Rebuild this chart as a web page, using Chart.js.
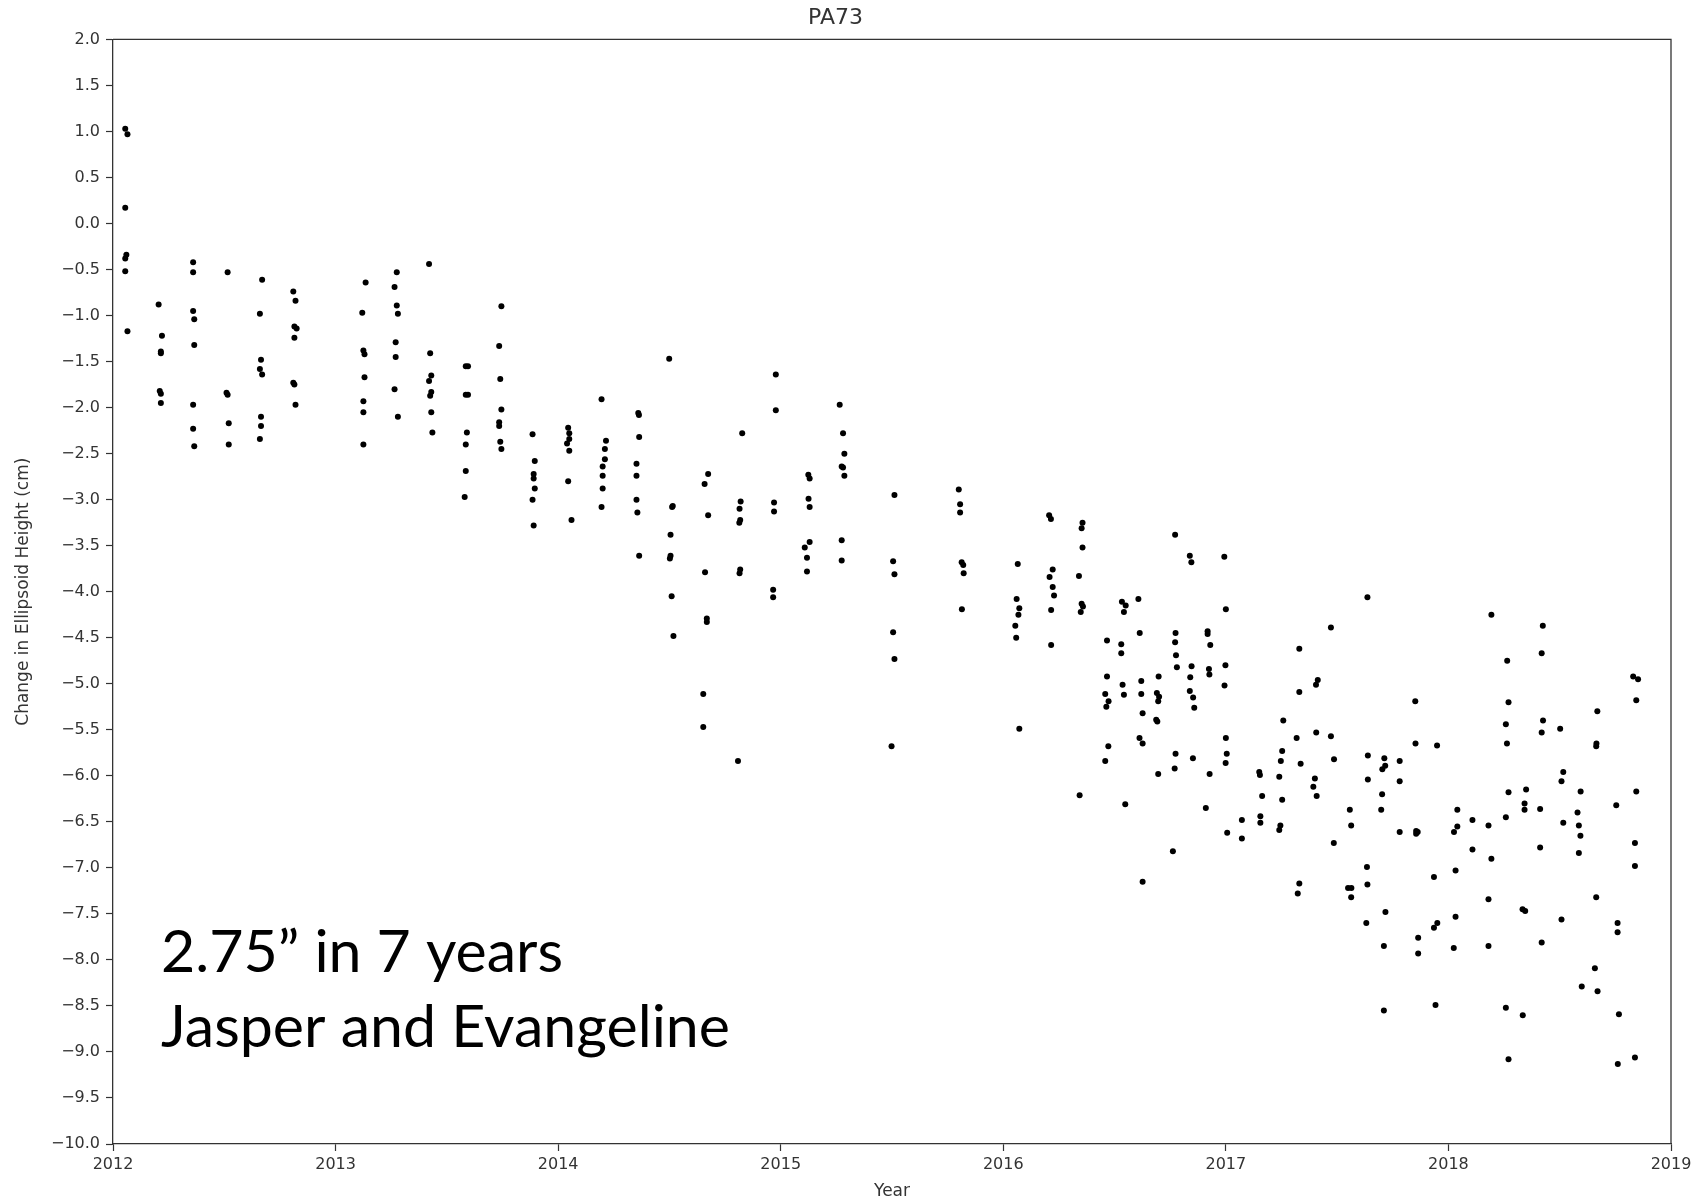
<!DOCTYPE html>
<html>
<head>
<meta charset="utf-8">
<title>PA73</title>
<script src="https://cdn.jsdelivr.net/npm/chart.js@4.4.1/dist/chart.umd.min.js"></script>
<style>
  html, body { margin: 0; padding: 0; background: #fff; }
  #wrap { width: 1704px; height: 1202px; }
</style>
</head>
<body>
<div id="wrap"><canvas id="myChart" width="1704" height="1202"></canvas></div>
<script>
'use strict';

// station + labels
var stationName = 'PA73';
var xTitle = 'Year';
var yTitle = 'Change in Ellipsoid Height (cm)';
var noteLines = ['2.75\u201d in 7 years', 'Jasper and Evangeline'];

// axis range / tick steps
var yearTicks = [2012, 2013, 2014, 2015, 2016, 2017, 2018, 2019];
var heightRange = [-10, 2];
var heightStep = 0.5;

// observation dates (decimal year), one row per survey column
var years = [
  2012.055, 2012.065, 2012.055, 2012.06, 2012.055, 2012.055, 2012.065,
  2012.205, 2012.22, 2012.215, 2012.215, 2012.21, 2012.215, 2012.215,
  2012.36, 2012.36, 2012.36, 2012.365, 2012.365, 2012.36, 2012.36, 2012.365,
  2012.515, 2012.51, 2012.515, 2012.52, 2012.52,
  2012.67, 2012.66, 2012.665, 2012.66, 2012.67, 2012.665, 2012.665, 2012.66,
  2012.81, 2012.82, 2012.815, 2012.825, 2012.815, 2012.81, 2012.815, 2012.82,
  2013.135, 2013.12, 2013.125, 2013.13, 2013.13, 2013.125, 2013.125, 2013.125,
  2013.275, 2013.265, 2013.275, 2013.28, 2013.27, 2013.27, 2013.265, 2013.28,
  2013.42, 2013.425, 2013.43, 2013.42, 2013.43, 2013.425, 2013.43, 2013.435,
  2013.585, 2013.595, 2013.585, 2013.595, 2013.59, 2013.585, 2013.585, 2013.58,
  2013.745, 2013.735, 2013.74, 2013.745, 2013.735, 2013.735, 2013.74, 2013.745,
  2013.885, 2013.895, 2013.89, 2013.89, 2013.895, 2013.885, 2013.89,
  2014.045, 2014.05, 2014.05, 2014.04, 2014.05, 2014.045, 2014.06,
  2014.195, 2014.215, 2014.21, 2014.21, 2014.20, 2014.20, 2014.20, 2014.195,
  2014.36, 2014.363, 2014.364, 2014.352, 2014.352, 2014.352, 2014.356, 2014.364,
  2014.499, 2014.515, 2014.512, 2014.505, 2014.505, 2014.502, 2014.51, 2014.518,
  2014.674, 2014.658, 2014.674, 2014.66, 2014.668, 2014.668, 2014.652, 2014.652,
  2014.827, 2014.82, 2014.815, 2014.818, 2014.814, 2014.818, 2014.815, 2014.808,
  2014.978, 2014.978, 2014.97, 2014.97, 2014.966, 2014.966,
  2015.124, 2015.13, 2015.125, 2015.13, 2015.13, 2015.108, 2015.118, 2015.118,
  2015.265, 2015.28, 2015.286, 2015.274, 2015.28, 2015.286, 2015.274, 2015.274,
  2015.511, 2015.505, 2015.511, 2015.505, 2015.511, 2015.498,
  2015.80, 2015.806, 2015.806, 2015.813, 2015.82, 2015.822, 2015.814,
  2016.065, 2016.06, 2016.072, 2016.068, 2016.054, 2016.058, 2016.072,
  2016.206, 2016.214, 2016.222, 2016.208, 2016.222, 2016.228, 2016.215, 2016.215,
  2016.356, 2016.352, 2016.356, 2016.340, 2016.352, 2016.358, 2016.348, 2016.343,
  2016.466, 2016.466, 2016.458, 2016.473, 2016.463, 2016.472, 2016.458,
  2016.533, 2016.55, 2016.542, 2016.53, 2016.53, 2016.536, 2016.542, 2016.548,
  2016.607, 2016.613, 2016.62, 2016.62, 2016.626, 2016.612, 2016.626, 2016.626,
  2016.698, 2016.69, 2016.70, 2016.696, 2016.687, 2016.692, 2016.696,
  2016.772, 2016.774, 2016.772, 2016.776, 2016.78, 2016.774, 2016.77, 2016.762,
  2016.838, 2016.845, 2016.846, 2016.84, 2016.838, 2016.853, 2016.858, 2016.852,
  2016.918, 2016.918, 2016.93, 2016.924, 2016.926, 2016.927, 2016.91,
  2016.993, 2017.0, 2016.998, 2016.994, 2017.0, 2017.004, 2016.999, 2017.006,
  2017.072, 2017.072,
  2017.15, 2017.153, 2017.163, 2017.155, 2017.155,
  2017.258, 2017.253, 2017.247, 2017.24, 2017.253, 2017.245, 2017.24,
  2017.33, 2017.33, 2017.318, 2017.336, 2017.33, 2017.323,
  2017.413, 2017.405, 2017.406, 2017.40, 2017.393, 2017.408,
  2017.472, 2017.472, 2017.486, 2017.485,
  2017.557, 2017.563, 2017.549, 2017.564, 2017.563,
  2017.636, 2017.638, 2017.638, 2017.634, 2017.636, 2017.631,
  2017.712, 2017.716, 2017.703, 2017.702, 2017.698, 2017.717, 2017.71, 2017.71,
  2017.781, 2017.781, 2017.781,
  2017.851, 2017.852, 2017.855, 2017.862, 2017.855, 2017.864, 2017.864,
  2017.949, 2017.935, 2017.95, 2017.935, 2017.942,
  2018.04, 2018.04, 2018.025, 2018.032, 2018.032, 2018.024,
  2018.108, 2018.108,
  2018.193, 2018.18, 2018.193, 2018.18, 2018.18,
  2018.264, 2018.27, 2018.258, 2018.263, 2018.27, 2018.258, 2018.258, 2018.27,
  2018.349, 2018.342, 2018.342, 2018.333, 2018.345, 2018.334,
  2018.424, 2018.419, 2018.425, 2018.419, 2018.412, 2018.412, 2018.419,
  2018.502, 2018.516, 2018.508, 2018.516, 2018.508,
  2018.594, 2018.58, 2018.586, 2018.593, 2018.586, 2018.599,
  2018.669, 2018.665, 2018.664, 2018.664, 2018.658, 2018.67,
  2018.754, 2018.76, 2018.76, 2018.766, 2018.761,
  2018.83, 2018.852, 2018.844, 2018.844, 2018.838, 2018.838, 2018.838
];

// change in ellipsoid height (cm), same order as years
var heightChange = [
  1.03, 0.97, 0.17, -0.34, -0.38, -0.52, -1.17,
  -0.88, -1.22, -1.39, -1.41, -1.82, -1.85, -1.95,
  -0.42, -0.53, -0.95, -1.04, -1.32, -1.97, -2.23, -2.42,
  -0.53, -1.84, -1.86, -2.17, -2.40,
  -0.61, -0.98, -1.48, -1.58, -1.64, -2.10, -2.20, -2.34,
  -0.74, -0.84, -1.12, -1.14, -1.24, -1.73, -1.75, -1.97,
  -0.64, -0.97, -1.38, -1.42, -1.67, -1.93, -2.05, -2.40,
  -0.53, -0.69, -0.89, -0.98, -1.29, -1.45, -1.80, -2.10,
  -0.44, -1.41, -1.65, -1.71, -1.83, -1.87, -2.05, -2.27,
  -1.55, -1.55, -1.86, -1.86, -2.27, -2.40, -2.69, -2.97,
  -0.90, -1.33, -1.69, -2.02, -2.16, -2.20, -2.37, -2.45,
  -2.29, -2.58, -2.72, -2.77, -2.88, -3.00, -3.28,
  -2.22, -2.28, -2.34, -2.39, -2.47, -2.80, -3.22,
  -1.91, -2.36, -2.45, -2.56, -2.64, -2.74, -2.88, -3.08,
  -2.06, -2.08, -2.32, -2.61, -2.74, -3.00, -3.14, -3.61,
  -1.47, -3.07, -3.08, -3.38, -3.61, -3.64, -4.05, -4.48,
  -2.72, -2.83, -3.17, -3.79, -4.29, -4.33, -5.11, -5.47,
  -2.28, -3.02, -3.10, -3.22, -3.25, -3.76, -3.80, -5.84,
  -1.64, -2.03, -3.03, -3.13, -3.98, -4.06,
  -2.73, -2.77, -2.99, -3.08, -3.46, -3.52, -3.63, -3.78,
  -1.97, -2.28, -2.50, -2.64, -2.65, -2.74, -3.44, -3.66,
  -2.95, -3.67, -3.81, -4.44, -4.73, -5.68,
  -2.89, -3.05, -3.14, -3.68, -3.71, -3.80, -4.19,
  -3.70, -4.08, -4.18, -4.25, -4.37, -4.50, -5.49,
  -3.17, -3.21, -3.76, -3.84, -3.95, -4.04, -4.20, -4.58,
  -3.25, -3.31, -3.52, -3.83, -4.13, -4.16, -4.22, -6.21,
  -4.53, -4.92, -5.11, -5.19, -5.25, -5.68, -5.84,
  -4.11, -4.15, -4.22, -4.57, -4.67, -5.01, -5.12, -6.31,
  -4.08, -4.45, -4.97, -5.11, -5.32, -5.59, -5.65, -7.15,
  -4.92, -5.10, -5.14, -5.19, -5.39, -5.41, -5.98,
  -3.38, -4.45, -4.55, -4.69, -4.82, -5.76, -5.92, -6.82,
  -3.61, -3.68, -4.81, -4.93, -5.08, -5.15, -5.26, -5.81,
  -4.43, -4.46, -4.58, -4.84, -4.90, -5.98, -6.35,
  -3.62, -4.19, -4.80, -5.02, -5.59, -5.76, -5.86, -6.62,
  -6.48, -6.68,
  -5.96, -5.99, -6.22, -6.44, -6.51,
  -5.40, -5.73, -5.84, -6.01, -6.26, -6.54, -6.59,
  -4.62, -5.09, -5.59, -5.87, -7.17, -7.28,
  -4.96, -5.01, -5.53, -6.03, -6.12, -6.22,
  -4.39, -5.57, -5.82, -6.73,
  -6.37, -6.54, -7.22, -7.22, -7.32,
  -4.06, -5.78, -6.04, -6.99, -7.18, -7.60,
  -5.81, -5.89, -5.93, -6.20, -6.37, -7.48, -7.85, -8.55,
  -5.84, -6.06, -6.61,
  -5.19, -5.65, -6.60, -6.61, -6.63, -7.76, -7.93,
  -5.67, -7.10, -7.60, -7.65, -8.49,
  -6.37, -6.55, -6.61, -7.03, -7.53, -7.87,
  -6.48, -6.80,
  -4.25, -6.54, -6.90, -7.34, -7.85,
  -4.75, -5.20, -5.44, -5.65, -6.18, -6.45, -8.52, -9.08,
  -6.15, -6.30, -6.37, -7.45, -7.47, -8.60,
  -4.37, -4.67, -5.40, -5.53, -6.36, -6.78, -7.81,
  -5.49, -5.96, -6.06, -6.51, -7.56,
  -6.17, -6.40, -6.54, -6.65, -6.84, -8.29,
  -5.30, -5.65, -5.68, -7.32, -8.09, -8.34,
  -6.32, -7.60, -7.70, -8.59, -9.13,
  -4.92, -4.95, -5.18, -6.17, -6.73, -6.98, -9.06
];

var axisColor = '#333';
var textColor = '#333';
var baseFont = 'DejaVu Sans';

var points = [];
for (var i = 0; i < years.length; i++) {
    points.push({ x: years[i], y: heightChange[i] });
}

function minusLabel(v) {
    var s = Math.abs(v).toFixed(1);
    return v < 0 ? '\u2212' + s : s;
}

// top + right spines like the matplotlib box, plus the big note text
var framePlugin = {
    id: 'frame',
    afterDraw: function (chart) {
        var ctx = chart.ctx;
        var a = chart.chartArea;
        ctx.save();
        ctx.strokeStyle = axisColor;
        ctx.lineWidth = 1.3;
        ctx.beginPath();
        ctx.moveTo(a.left, a.top);
        ctx.lineTo(a.right, a.top);
        ctx.lineTo(a.right, a.bottom);
        ctx.stroke();
        ctx.restore();
    }
};

var notePlugin = {
    id: 'note',
    afterDraw: function (chart) {
        var ctx = chart.ctx;
        var spots = [
            { x: 161, y: 972, w: 402 },
            { x: 161, y: 1047, w: 569 }
        ];
        ctx.save();
        ctx.fillStyle = '#000';
        ctx.font = '58px Lato';
        ctx.textBaseline = 'alphabetic';
        for (var k = 0; k < noteLines.length; k++) {
            var m = ctx.measureText(noteLines[k]).width;
            ctx.save();
            ctx.translate(spots[k].x, spots[k].y);
            ctx.scale(spots[k].w / m, 1);
            ctx.fillText(noteLines[k], 0, 0);
            ctx.restore();
        }
        ctx.restore();
    }
};

var ctx = document.getElementById('myChart').getContext('2d');
var chart = new Chart(ctx, {
    type: 'scatter',
    data: {
        datasets: [{
            label: stationName,
            data: points,
            backgroundColor: '#000',
            borderColor: '#000',
            borderWidth: 0,
            pointRadius: 3,
            pointHoverRadius: 3
        }]
    },
    options: {
        responsive: false,
        animation: false,
        devicePixelRatio: 1,
        layout: { padding: { left: 0, right: 33, top: 0, bottom: 0 } },
        plugins: {
            legend: { display: false },
            tooltip: { enabled: false },
            title: {
                display: true,
                text: stationName,
                color: textColor,
                font: { family: baseFont, size: 22, weight: 'normal' },
                padding: { top: 5, bottom: 8 }
            }
        },
        scales: {
            x: {
                type: 'linear',
                min: yearTicks[0],
                max: yearTicks[yearTicks.length - 1],
                afterBuildTicks: function (scale) {
                    scale.ticks = yearTicks.map(function (v) { return { value: v }; });
                },
                afterFit: function (scale) { scale.height = 58; },
                ticks: {
                    color: textColor,
                    font: { family: baseFont, size: 16 },
                    padding: 4,
                    autoSkip: false,
                    maxRotation: 0,
                    callback: function (v) { return String(v); }
                },
                grid: {
                    drawOnChartArea: false,
                    drawTicks: true,
                    tickLength: 7,
                    tickColor: axisColor,
                    tickWidth: 1.2
                },
                border: { display: true, color: axisColor, width: 1.3 },
                title: {
                    display: true,
                    text: xTitle,
                    color: textColor,
                    font: { family: baseFont, size: 17 },
                    padding: { top: 0, bottom: 0 }
                }
            },
            y: {
                type: 'linear',
                min: heightRange[0],
                max: heightRange[1],
                afterFit: function (scale) { scale.width = 113; },
                ticks: {
                    stepSize: heightStep,
                    maxTicksLimit: 40,
                    autoSkip: false,
                    color: textColor,
                    font: { family: baseFont, size: 16 },
                    padding: 6,
                    callback: function (v) { return minusLabel(v); }
                },
                grid: {
                    drawOnChartArea: false,
                    drawTicks: true,
                    tickLength: 7,
                    tickColor: axisColor,
                    tickWidth: 1.2
                },
                border: { display: true, color: axisColor, width: 1.3 },
                title: {
                    display: true,
                    text: yTitle,
                    color: textColor,
                    font: { family: baseFont, size: 17 },
                    padding: { top: 13, bottom: 0 }
                }
            }
        }
    },
    plugins: [framePlugin, notePlugin]
});
</script>
</body>
</html>
